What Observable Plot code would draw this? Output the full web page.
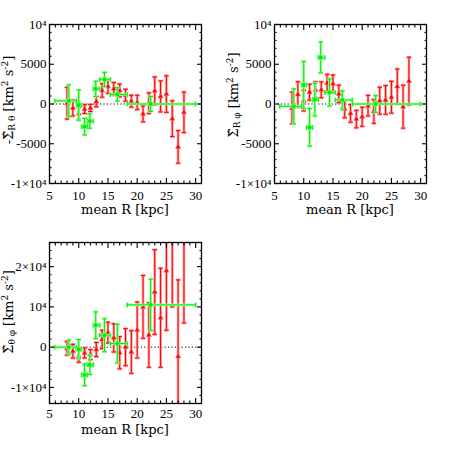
<!DOCTYPE html>
<html><head><meta charset="utf-8">
<script src="https://cdn.jsdelivr.net/npm/d3@7"></script>
<script src="https://cdn.jsdelivr.net/npm/@observablehq/plot@0.6"></script>
<style>
body{margin:0;background:#fff;}
#fig{position:relative;width:450px;height:450px;}
#fig svg{position:absolute;overflow:visible;}
</style></head><body><div id="fig"></div>
<script>
// ---- data ----
const redR = [8,9,10,11,12,13,14,15,16,17,18,19,20,21,22,23,24,25,26,27,28];
const greenR   = [8.3, 10.0, 11.0, 11.9, 12.9, 14.4, 16.6, 22.3];
const greenRlo = [5.9, 9.6, 10.5, 11.5, 12.5, 13.6, 15.4, 18.3];
const greenRhi = [9.6, 10.5, 11.5, 12.5, 13.6, 15.4, 18.3, 30.0];

// panel 1: -Sigma_R theta
const redRT    = [100,-500,-1200,-650,-500,300,1700,2200,1900,1700,1100,350,200,-1250,100,1650,950,1250,-1850,-5400,-1050];
const redRTerr = [2000,1000,800,550,450,650,850,850,800,800,750,750,900,1000,1300,1750,1950,2300,2250,2050,2550];
const greenRT    = [400,-130,-2850,-2150,1900,3080,1200,0];
const greenRTerr = [2000,1900,1050,900,950,900,850,950];

// panel 2: Sigma_R phi
const redRP    = [-500,1200,420,1480,1780,1780,2630,2540,1270,-640,-1190,-1900,-1610,-210,-930,420,510,850,2200,-340,2880];
const redRPerr = [2000,1600,1300,1000,1000,1000,1100,1100,1100,1100,1100,1100,1200,1300,1500,1700,1800,2000,2200,2700,3000];
const greenRP    = [-300,2400,-2950,550,5850,1450,500,0];
const greenRPerr = [2200,2950,2350,2050,1950,1700,1150,1050];

// panel 3: Sigma_theta phi
const redTP    = [-300,-1000,-2250,-1450,-1850,-600,1900,3600,2300,-1400,0,-1200,4250,10000,3000,13700,7300,19000,28000,-2300,30000];
const redTPerr = [1700,1700,1500,1250,1250,1750,2300,2600,3500,4000,4600,5300,6950,7800,8000,10500,12300,14800,18000,19000,24000];
const greenTP    = [0,-500,-6900,-4400,5450,2950,900,10500];
const greenTPerr = [1750,2400,2700,2400,3300,4100,4800,6400];

const xDomain = [5, 31];
const xMajor = [5,10,15,20,25,30];
const xMinor = d3.range(6, 31).filter(v => v % 5 !== 0);

const fmtY = v => v === 1e4 ? "10\u2074" : v === -1e4 ? "-1\u00d710\u2074" : v === 2e4 ? "2\u00d710\u2074" : String(v);

const capH = {draw(ctx){ ctx.moveTo(-2.3,0); ctx.lineTo(2.3,0); }};
const capV = {draw(ctx){ ctx.moveTo(0,-2.3); ctx.lineTo(0,2.3); }};

function errMarks(data, core, halo, horizontal) {
  const m = [];
  for (const [stroke, sw] of [[halo, 2.6], [core, 1]]) {
    m.push(Plot.ruleX(data, {x: "x", y1: d => d.y - d.e, y2: d => d.y + d.e, stroke, strokeWidth: sw, clip: true}));
    m.push(Plot.dot(data, {x: "x", y: d => d.y + d.e, symbol: capH, stroke, strokeWidth: sw, fill: "none", clip: true}));
    m.push(Plot.dot(data, {x: "x", y: d => d.y - d.e, symbol: capH, stroke, strokeWidth: sw, fill: "none", clip: true}));
    if (horizontal) {
      m.push(Plot.ruleY(data, {y: "y", x1: "lo", x2: "hi", stroke, strokeWidth: sw, clip: true}));
      m.push(Plot.dot(data, {x: "lo", y: "y", symbol: capV, stroke, strokeWidth: sw, fill: "none", clip: true}));
      m.push(Plot.dot(data, {x: "hi", y: "y", symbol: capV, stroke, strokeWidth: sw, fill: "none", clip: true}));
    }
  }
  return m;
}

function panel(cfg) {
  const red = redR.map((x, i) => ({x, y: cfg.red[i], e: cfg.redErr[i]}));
  const green = greenR.map((x, i) => ({x, lo: greenRlo[i], hi: greenRhi[i], y: cfg.green[i], e: cfg.greenErr[i]}));
  const svg = Plot.plot({
    width: 225, height: 225,
    marginLeft: 49, marginRight: 24, marginTop: cfg.mt, marginBottom: cfg.mb,
    style: {fontFamily: "Liberation Serif", fontSize: "12.5px", background: "transparent", color: "black"},
    x: {domain: xDomain},
    y: {domain: cfg.yDomain},
    marks: [
      Plot.ruleY([0], {stroke: "black", strokeWidth: 1, strokeDasharray: "1.2,2.2"}),
      ...errMarks(red, "#ff0000", "#ff9a9a", false),
      Plot.dot(red, {x: "x", y: "y", symbol: "triangle", r: 1.9, fill: "#ff0000", stroke: "#ff6060", strokeWidth: 0.6, clip: true}),
      ...errMarks(green, "#00ee00", "#9cff9c", true),
      Plot.dot(green, {x: "x", y: "y", r: 2.4, fill: "#00ee00", stroke: "#7cff7c", strokeWidth: 0.8, clip: true}),
      Plot.frame({stroke: "black", strokeWidth: 1.3}),
      // inward ticks on all four sides
      Plot.axisX({anchor: "bottom", ticks: xMajor, tickSize: -5, tickFormat: () => "", label: null, strokeWidth: 1.1}),
      Plot.axisX({anchor: "bottom", ticks: xMinor, tickSize: -2.5, tickFormat: () => "", label: null, strokeWidth: 1.1}),
      Plot.axisX({anchor: "top", ticks: xMajor, tickSize: -5, tickFormat: () => "", label: null, strokeWidth: 1.1}),
      Plot.axisX({anchor: "top", ticks: xMinor, tickSize: -2.5, tickFormat: () => "", label: null, strokeWidth: 1.1}),
      Plot.axisY({anchor: "left", ticks: cfg.yMajor, tickSize: -5, tickFormat: () => "", label: null, strokeWidth: 1.1}),
      Plot.axisY({anchor: "left", ticks: cfg.yMinor, tickSize: -2.5, tickFormat: () => "", label: null, strokeWidth: 1.1}),
      Plot.axisY({anchor: "right", ticks: cfg.yMajor, tickSize: -5, tickFormat: () => "", label: null, strokeWidth: 1.1}),
      Plot.axisY({anchor: "right", ticks: cfg.yMinor, tickSize: -2.5, tickFormat: () => "", label: null, strokeWidth: 1.1}),
      // tick labels
      Plot.axisX({anchor: "bottom", ticks: xMajor, tickSize: 0, tickPadding: cfg.tp, label: null, fontSize: 13}),
      Plot.axisY({anchor: "left", ticks: cfg.yMajor, tickSize: 0, tickPadding: 3, tickFormat: fmtY, label: null, fontSize: 13})
    ]
  });
  svg.style.left = cfg.left + "px";
  svg.style.top = cfg.top + "px";
  const s = d3.select(svg);
  // x label
  s.append("text").attr("x", 125).attr("y", cfg.xlabY).attr("text-anchor", "middle")
    .attr("font-family", "DejaVu Serif").attr("font-size", 13).attr("fill", "black").text("mean R [kpc]");
  // y label
  const t = s.append("text").attr("transform", `translate(${cfg.ylabX},${cfg.ylabY}) rotate(-90)`)
    .attr("text-anchor", "middle").attr("font-family", "DejaVu Serif").attr("font-size", 13).attr("fill", "black");
  t.append("tspan").text(cfg.sym);
  t.append("tspan").attr("font-size", 9).attr("dy", 2.5).text(cfg.sub);
  t.append("tspan").attr("dy", -2.5).text(" [km");
  t.append("tspan").attr("font-size", 9).attr("dy", -5).text("2");
  t.append("tspan").attr("dy", 5).text(" s");
  t.append("tspan").attr("font-size", 9).attr("dy", -5).text("-2");
  t.append("tspan").attr("dy", 5).text("]");
  document.getElementById("fig").appendChild(svg);
}

const yMajorTop = [-10000,-5000,0,5000,10000];
const yMinorTop = d3.range(-9000, 10000, 1000).filter(v => v % 5000 !== 0);
const yMajorBot = [-10000,0,10000,20000];
const yMinorBot = d3.range(-14000, 26001, 2000).filter(v => v % 10000 !== 0);

panel({left: 0, top: 0, mt: 24, mb: 42, tp: 7, yDomain: [-1e4, 1e4], yMajor: yMajorTop, yMinor: yMinorTop,
  red: redRT, redErr: redRTerr, green: greenRT, greenErr: greenRTerr, sym: "-\u03a3\u0302", sub: "R \u03b8", xlabY: 214, ylabX: 12.5, ylabY: 100});
panel({left: 225, top: 0, mt: 24, mb: 42, tp: 7, yDomain: [-1e4, 1e4], yMajor: yMajorTop, yMinor: yMinorTop,
  red: redRP, redErr: redRPerr, green: greenRP, greenErr: greenRPerr, sym: "\u03a3\u0302", sub: "R \u03c6", xlabY: 214, ylabX: 12.5, ylabY: 95});
panel({left: 0, top: 225, mt: 17, mb: 47, tp: 5, yDomain: [-1.4e4, 2.6e4], yMajor: yMajorBot, yMinor: yMinorBot,
  red: redTP, redErr: redTPerr, green: greenTP, greenErr: greenTPerr, sym: "\u03a3\u0302", sub: "\u03b8 \u03c6", xlabY: 209, ylabX: 12.5, ylabY: 87});
</script>
</body></html>
